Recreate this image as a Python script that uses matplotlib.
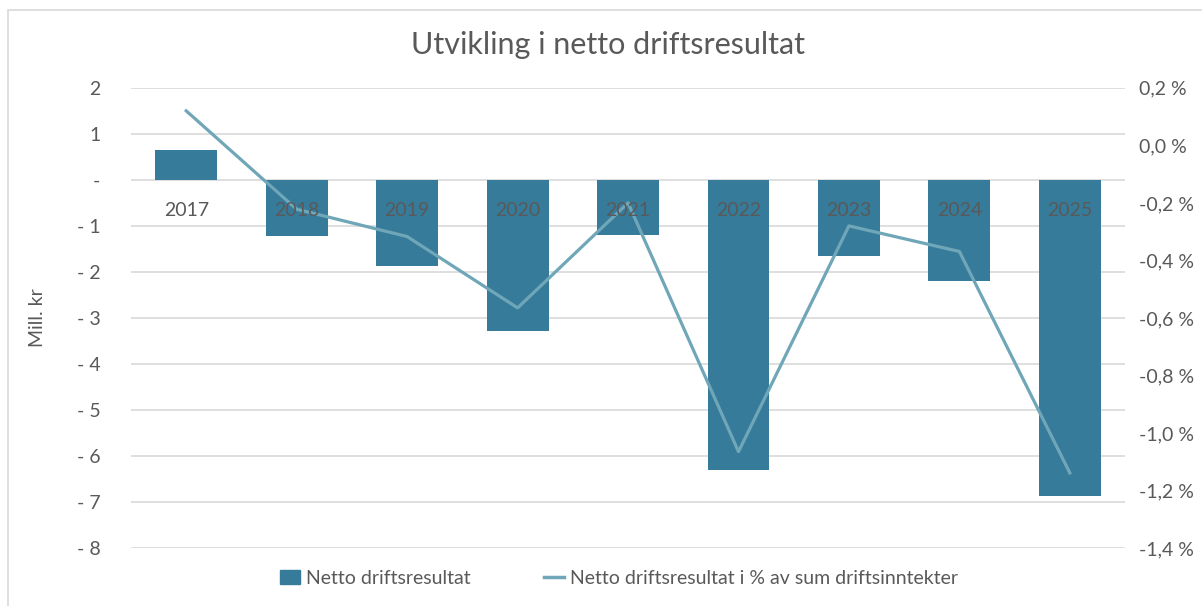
import numpy as np
import matplotlib.pyplot as plt
from matplotlib.patches import Rectangle
from matplotlib.ticker import FuncFormatter

plt.rcParams['font.family'] = ['Lato', 'DejaVu Sans']

# data
years = ['2017', '2018', '2019', '2020', '2021', '2022', '2023', '2024', '2025']
netto = [0.65, -1.23, -1.87, -3.28, -1.2, -6.3, -1.65, -2.2, -6.87]      # mill. kr
netto_pct = [0.12, -0.222, -0.317, -0.565, -0.2, -1.065, -0.28, -0.369, -1.139]  # %

bar_col = '#377B9A'
line_col = '#6FA6B8'
txt_col = '#595959'
grid_col = '#D9D9D9'

fig = plt.figure(figsize=(12.02, 6.06), dpi=100)
fig.patches.append(Rectangle((0.007, -0.01), 1.0, 0.993, transform=fig.transFigure,
                             fill=False, edgecolor=grid_col, lw=1.2))

ax = fig.add_axes([0.109, 0.0957, 0.827, 0.7593])
x = np.arange(len(years))
ax.bar(x, netto, width=0.56, color=bar_col, zorder=2)
ax.set_ylim(-8, 2)
ax.set_xlim(-0.5, len(years) - 0.5)
ax.set_yticks(np.arange(-8, 3, 1))


def left_fmt(v, pos):
    v = int(round(v))
    if v == 0:
        return '-'
    if v < 0:
        return '- %d' % abs(v)
    return '%d' % v


ax.yaxis.set_major_formatter(FuncFormatter(left_fmt))
ax.grid(axis='y', color=grid_col, lw=1.2, zorder=0)
ax.set_axisbelow(True)
for s in ax.spines.values():
    s.set_visible(False)
ax.tick_params(axis='y', length=0, pad=22, labelsize=14, labelcolor=txt_col)
ax.set_xticks([])
ax.set_ylabel('Mill. kr', fontsize=14, color=txt_col, labelpad=22)

ax2 = ax.twinx()
ax2.plot(x, netto_pct, color=line_col, lw=2.3, zorder=3)
ax2.set_ylim(-1.4, 0.2)
ax2.set_yticks(np.arange(-1.4, 0.21, 0.2))
ax2.yaxis.set_major_formatter(FuncFormatter(lambda v, p: ('%.1f %%' % v).replace('.', ',').replace('-0,0', '0,0')))
for s in ax2.spines.values():
    s.set_visible(False)
ax2.tick_params(axis='y', length=0, pad=10, labelsize=14, labelcolor=txt_col)

# year labels near zero line, drawn over the bars
for xi, yr in zip(x, years):
    ax2.text(xi, -0.228, yr, ha='center', va='center', fontsize=14, color=txt_col, zorder=5)

fig.text(0.506, 0.925, 'Utvikling i netto driftsresultat', ha='center', va='center',
         fontsize=22, color=txt_col)

h1 = Rectangle((0, 0), 1, 1, color=bar_col)
h2 = plt.Line2D([], [], color=line_col, lw=2.5)
fig.legend([h1, h2], ['Netto driftsresultat', 'Netto driftsresultat i % av sum driftsinntekter'],
           loc='center', bbox_to_anchor=(0.515, 0.046), ncol=2, frameon=False,
           fontsize=14, labelcolor=txt_col, handlelength=1.0, handletextpad=0.3,
           columnspacing=3.8)

fig.savefig('out.png', dpi=100)
